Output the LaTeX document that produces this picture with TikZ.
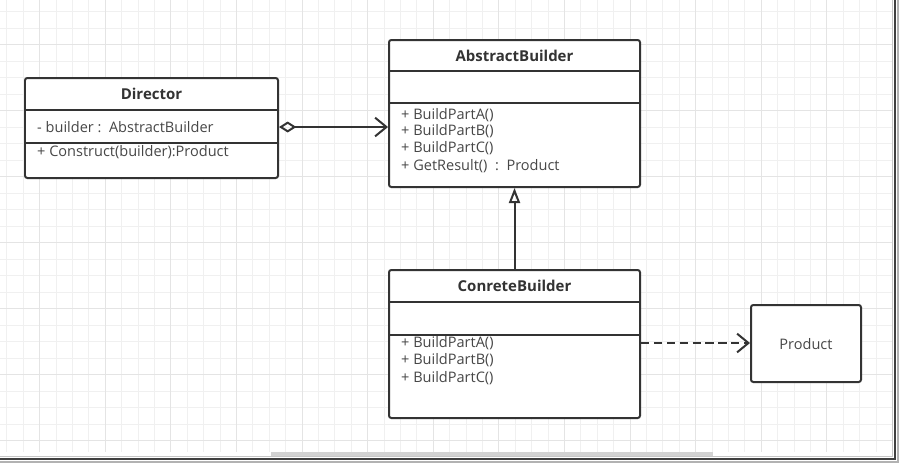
\documentclass[tikz,border=0pt]{standalone}
\usepackage{fontspec}
\setmainfont{Open Sans}
\usepackage{tikz}
\usetikzlibrary{shapes,arrows.meta}
\usepackage{xcolor}
\definecolor{umlline}{HTML}{333333}
\definecolor{umltext}{HTML}{474747}
\definecolor{gridminor}{HTML}{F0F0F0}
\definecolor{gridmajor}{HTML}{E4E4E4}

\begin{document}
\begin{tikzpicture}[x=0.03cm,y=-0.03cm,
    font=\fontsize{12.4}{14}\selectfont,
    classbox/.style={draw=umlline, line width=1.7pt, rounded corners=2pt, fill=white, inner sep=0pt},
    classname/.style={font=\fontsize{12.8}{14}\selectfont\bfseries, text=umlline},
    member/.style={anchor=west, text=umltext, inner sep=0pt},
    sepline/.style={draw=umlline, line width=1.7pt},
    aggr/.style={draw=umlline, line width=1.7pt, {Diamond[open,length=0.52cm,width=0.33cm]}-{Straight Barb[length=0.34cm,width=0.56cm]}},
    inherit/.style={draw=umlline, line width=1.7pt, -{Triangle[open,length=0.45cm,width=0.33cm]}},
    depend/.style={draw=umlline, line width=1.7pt, dash pattern=on 7pt off 4pt, -{Straight Barb[length=0.34cm,width=0.56cm]}}]
  % Sizes
  \pgfmathsetmacro{\px}{0.03}
  \useasboundingbox (0,0) rectangle (900,463);

  % grid
  \foreach \gx in {6.7,23.1,...,890} \draw[gridminor, line width=0.6pt] (\gx,0) -- (\gx,452);
  \foreach \gy in {11.7,28.2,...,450} \draw[gridminor, line width=0.6pt] (0,\gy) -- (892,\gy);
  \foreach \gx in {39.5,105.1,...,890} \draw[gridmajor, line width=0.6pt] (\gx,0) -- (\gx,452);
  \foreach \gy in {44.7,110.7,...,450} \draw[gridmajor, line width=0.6pt] (0,\gy) -- (892,\gy);

  % window frame
  \fill[gray!35] (271,452) rectangle (713,456);
  \draw[gray!45, line width=0.8pt] (892.5,0) -- (892.5,456.5) -- (0,456.5);
  \draw[black!75, line width=1.6pt] (895,0) -- (895,459) -- (0,459);
  \draw[gray!60, line width=1.2pt] (898,0) -- (898,462) -- (0,462);

  % classes
  \node[classbox, minimum width=253*\px cm, minimum height=100*\px cm] (dir) at (151.5,128) {};
  \node[classbox, minimum width=251*\px cm, minimum height=147*\px cm] (ab) at (514.5,113.5) {};
  \node[classbox, minimum width=251*\px cm, minimum height=148*\px cm] (cb) at (514.5,344) {};
  \node[classbox, minimum width=110*\px cm, minimum height=77*\px cm] (prod) at (806,343.5) {};

  % compartments
  \draw[sepline] (dir.west |- 0,110) -- (dir.east |- 0,110);
  \draw[sepline] (dir.west |- 0,143) -- (dir.east |- 0,143);
  \draw[sepline] (ab.west |- 0,71) -- (ab.east |- 0,71);
  \draw[sepline] (ab.west |- 0,103) -- (ab.east |- 0,103);
  \draw[sepline] (cb.west |- 0,302) -- (cb.east |- 0,302);
  \draw[sepline] (cb.west |- 0,335) -- (cb.east |- 0,335);

  % texts
  \node[classname] (dirname) at (151.5,94) {Director};
  \node[member] (dirattr) at (37,127) {- builder :\ \ AbstractBuilder};
  \node[member] (dirop) at (37,152) {+ Construct(builder):Product};

  \node[classname] (abname) at (514.5,56) {AbstractBuilder};
  \node[member] (abA) at (401,115) {+ BuildPartA()};
  \node[member] (abB) at (401,131.5) {+ BuildPartB()};
  \node[member] (abC) at (401,148.5) {+ BuildPartC()};
  \node[member] (abR) at (401,166) {+ GetResult()\ \ :\ \ Product};

  \node[classname] (cbname) at (514.5,286) {ConreteBuilder};
  \node[member] (cbA) at (401,343) {+ BuildPartA()};
  \node[member] (cbB) at (401,360.5) {+ BuildPartB()};
  \node[member] (cbC) at (401,378) {+ BuildPartC()};

  \node[text=umltext] (prodname) at (806,344) {Product};

  % draw connections
  \draw[aggr] (dir.east |- dirattr) -- (ab.west |- dirattr);
  \draw[inherit] (cb.north) -- (ab.south);
  \draw[depend] (cb.east |- cbA) -- (prod.west |- cbA);
\end{tikzpicture}
\end{document}
